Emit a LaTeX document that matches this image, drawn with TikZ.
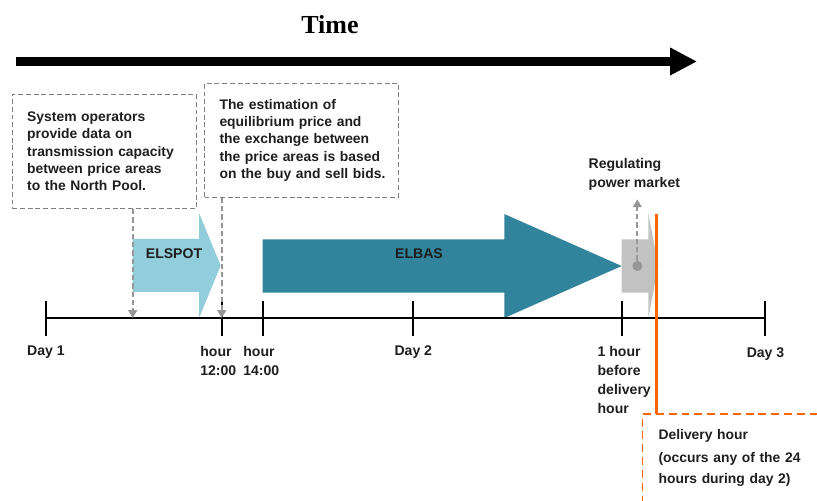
\documentclass[tikz,border=0pt]{standalone}
\usepackage{fontspec}
\setmainfont{Liberation Sans}
\newfontfamily\timefont{Liberation Serif}
\usetikzlibrary{arrows.meta}
\definecolor{elspotblue}{RGB}{146,205,220}
\definecolor{elbasteal}{RGB}{49,132,155}
\definecolor{regulgray}{RGB}{194,194,194}
\definecolor{markgray}{RGB}{150,150,150}
\definecolor{boxgray}{RGB}{128,128,128}
\definecolor{deliveryorange}{RGB}{255,102,0}
\definecolor{textdark}{RGB}{30,30,30}

\begin{document}
\begin{tikzpicture}[
    lbl/.style={font=\fontsize{8}{10.8}\selectfont\bfseries,text=textdark,inner sep=0pt,align=left},
    infobox/.style={draw=boxgray,line width=0.6pt,dash pattern=on 2.8pt off 1.6pt,
      font=\fontsize{7.9}{9.85}\selectfont\bfseries,text=textdark,align=left,
      inner xsep=0.3cm,inner ysep=0pt,minimum height=2.28cm,anchor=north west},
    tick/.style={line width=1.1pt},
    pointer/.style={markgray,line width=1.1pt,dash pattern=on 3pt off 1.7pt,
      -{Triangle[length=4.5pt,width=5pt]}}]
      \useasboundingbox (0,-3.66) rectangle (16.34,6.36);
      \node [font=\timefont\fontsize{14.8}{16}\selectfont\bfseries] (time) at (6.6,5.86) {Time};
      \coordinate (tstart) at (0.32,5.13);
      \coordinate (tend) at (13.94,5.13);
      \draw [line width=0.18cm,-{Triangle[length=0.54cm,width=0.52cm]}] (tstart) -- (tend);
      \node [infobox,text width=3.086cm] (sysop) at (0.234,4.48) {System operators\\provide data on\\transmission capacity\\between price areas\\to the North Pool.};
      \node [infobox,text width=3.28cm] (bids) at (4.08,4.706) {The estimation of\\equilibrium price and\\the exchange between\\the price areas is based\\\mbox{on the buy and sell bids.}};
      \fill [elspotblue] (2.654,1.58) -- (3.98,1.58) -- (3.98,2.1) -- (4.414,1.05) -- (3.98,0) -- (3.98,0.52) -- (2.654,0.52) -- cycle;
      \fill [elbasteal] (5.254,1.574) -- (10.086,1.574) -- (10.086,2.08) -- (12.434,1.04) -- (10.086,0) -- (10.086,0.506) -- (5.254,0.506) -- cycle;
      \fill [regulgray] (12.434,1.574) -- (12.966,1.574) -- (12.966,2.106) -- (13.166,1.04) -- (12.966,0) -- (12.966,0.506) -- (12.434,0.506) -- cycle;
      \node [lbl] (elspot) at (3.48,1.294) {ELSPOT};
      \node [lbl] (elbas) at (8.38,1.294) {ELBAS};
      \draw [tick] (0.92,0) -- (15.3,0);
      \foreach \x in {0.92,4.434,5.26,8.266,12.434,15.3}
        \draw [tick] (\x,0.33) -- (\x,-0.37);
      \coordinate (sysoppin) at (2.654,0);
      \coordinate (bidpin) at (4.434,0);
      \draw [pointer] (sysop.south -| sysoppin) -- (sysoppin);
      \draw [pointer] (bids.south -| bidpin) -- (bidpin);
      \node [circle,fill=markgray,inner sep=0pt,minimum size=0.2cm] (regdot) at (12.746,1.04) {};
      \coordinate (regtip) at (12.746,2.374);
      \draw [pointer] (regdot) -- (regtip);
      \node [lbl,anchor=north west,font=\fontsize{8}{10.5}\selectfont\bfseries] (regmarket) at (11.766,3.194) {Regulating\\power market};
      \node [lbl,anchor=north] (day1) at (0.92,-0.554) {Day 1};
      \node [lbl,anchor=north] (day2) at (8.266,-0.554) {Day 2};
      \node [lbl,anchor=north] (day3) at (15.31,-0.586) {Day 3};
      \node [lbl,anchor=north west] (h1200) at (4.0,-0.554) {hour\\12:00};
      \node [lbl,anchor=north west] (h1400) at (4.86,-0.554) {hour\\14:00};
      \node [lbl,anchor=north west] (before) at (11.946,-0.554) {1 hour\\before\\delivery\\hour};
      \node [lbl,text width=2.866cm,inner xsep=0.31cm,minimum height=1.74cm,anchor=north west,font=\fontsize{7.9}{11.8}\selectfont\bfseries] (delivery) at (12.854,-1.92) {Delivery hour\\[1.5pt](occurs any of the 24\\hours during day 2)};
      \draw [deliveryorange,line width=0.8pt,dash pattern=on 4.5pt off 2.8pt] (delivery.north east) -- (delivery.north west) -- (delivery.south west);
      \coordinate (dtop) at (13.134,2.08);
      \draw [deliveryorange,line width=2pt] (dtop) -- (dtop |- delivery.north);
\end{tikzpicture}
\end{document}
